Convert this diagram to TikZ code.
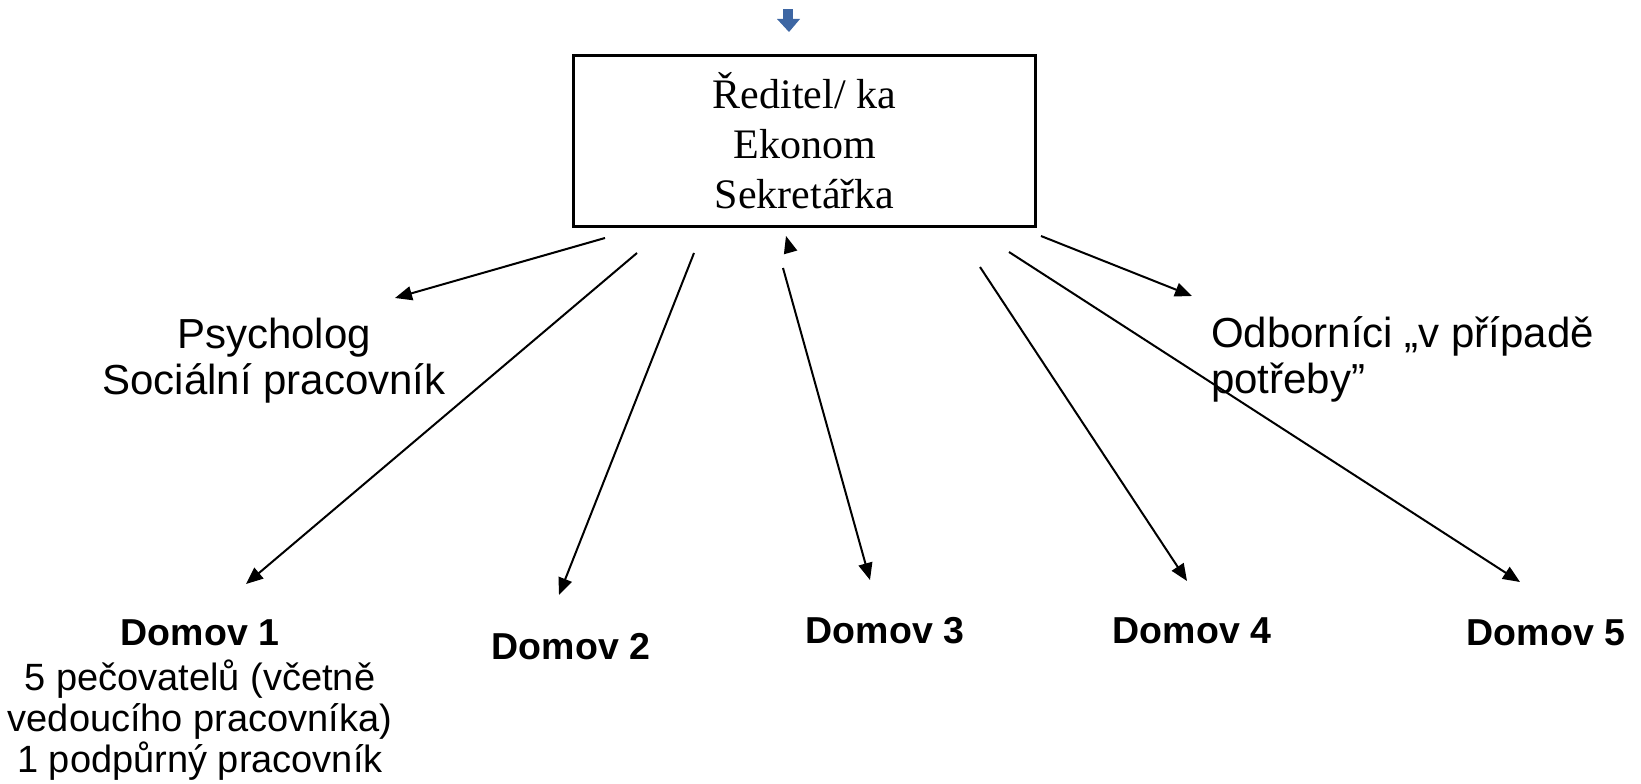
\documentclass[tikz,border=0pt]{standalone}
\usepackage{fontspec}
\setmainfont{Liberation Serif}
\newfontfamily\arialfont{Liberation Sans}
\usetikzlibrary{arrows.meta}
\definecolor{topblue}{RGB}{61,102,163}
\begin{document}
\begin{tikzpicture}[x=1pt,y=-1pt,
  conn/.style={line width=2pt,-{Triangle[length=17pt,width=14pt]}},
  boxnode/.style={draw,line width=2.5pt,minimum width=462pt,minimum height=171pt,inner sep=0pt,align=center,font=\fontsize{42}{50}\selectfont},
  lbl/.style={font=\arialfont\fontsize{42}{46}\selectfont,inner sep=0pt},
  domov/.style={font=\arialfont\bfseries\fontsize{37.5}{42}\selectfont,inner sep=0pt,anchor=base},
  subtxt/.style={font=\arialfont\fontsize{38}{41}\selectfont,inner sep=0pt,align=center,anchor=base}
]
\useasboundingbox (0,0) rectangle (1641,784);
% small blue arrow at the top
\fill[topblue] (783,9) rectangle (793,20);
\fill[topblue] (777,19) -- (800,19) -- (789,32) -- cycle;
% main box
\node[boxnode] (box) at (804.5,141) {Ředitel/ ka\\Ekonom\\Sekretářka};
% labels (base anchor = baseline of the last line)
\node[lbl,align=center,anchor=base] (psy) at (274,394) {Psycholog\\Sociální pracovník};
\node[lbl,align=left,anchor=base west] (odb) at (1211,393) {Odborníci „v případě\\potřeby”};
\node[domov] (d1) at (200,645) {Domov 1};
\node[subtxt] (d1t) at (200,772) {5 pečovatelů (včetně\\vedoucího pracovníka)\\1 podpůrný pracovník};
\node[domov] (d2) at (571,659) {Domov 2};
\node[domov] (d3) at (885,643) {Domov 3};
\node[domov] (d4) at (1192,643) {Domov 4};
\node[domov] (d5) at (1546,645) {Domov 5};
% connector ends
\coordinate (sP) at (605,238);  \coordinate (eP) at (395,298);
\coordinate (s1) at (637,253);  \coordinate (e1) at (246,584);
\coordinate (s2) at (694,253);  \coordinate (e2) at (559,595);
\coordinate (s3) at (783,268);  \coordinate (e3) at (870,580);
\coordinate (s4) at (980,267);  \coordinate (e4) at (1187,581);
\coordinate (s5) at (1009,252); \coordinate (e5) at (1520,582);
\coordinate (sO) at (1041,236); \coordinate (eO) at (1192,296);
\draw[conn] (sP) -- (eP);
\draw[conn] (s1) -- (e1);
\draw[conn] (s2) -- (e2);
\draw[conn] (s3) -- (e3);
\draw[conn] (s4) -- (e4);
\draw[conn] (s5) -- (e5);
\draw[conn] (sO) -- (eO);
% detached arrow head above the Domov 3 line
\fill (786,236) -- (797.3,250.5) -- (783.9,254.3) -- cycle;
\end{tikzpicture}
\end{document}
